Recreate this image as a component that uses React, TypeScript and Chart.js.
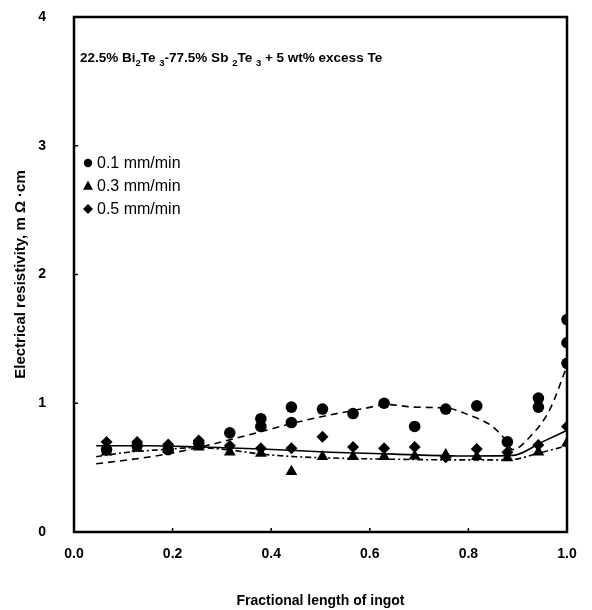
import React, { useEffect, useRef } from "react";
import { Chart, registerables } from "chart.js";

Chart.register(...registerables);

// ---- data ----
const xPositions = [0.066, 0.128, 0.191, 0.253, 0.316, 0.379, 0.441, 0.504, 0.566, 0.629, 0.691, 0.754, 0.817, 0.879, 0.942, 1.0];

const circleX = [0.066, 0.128, 0.191, 0.253, 0.316, 0.379, 0.379, 0.441, 0.441, 0.504, 0.566, 0.629, 0.691, 0.754, 0.817, 0.879, 0.942, 0.942, 1.0, 1.0, 1.0];
const circleY = [0.64, 0.67, 0.64, 0.69, 0.77, 0.82, 0.88, 0.85, 0.97, 0.955, 0.92, 1.0, 0.82, 0.955, 0.98, 0.70, 0.97, 1.04, 1.31, 1.47, 1.65];

const triangleX = xPositions;
const triangleY = [0.62, 0.65, 0.64, 0.66, 0.62, 0.61, 0.47, 0.585, 0.585, 0.585, 0.59, 0.60, 0.585, 0.575, 0.62, 0.69];

const diamondX = xPositions;
const diamondY = [0.70, 0.70, 0.68, 0.71, 0.67, 0.65, 0.65, 0.74, 0.66, 0.65, 0.66, 0.58, 0.645, 0.62, 0.675, 0.82];

// fitted trend curves
const fitCircleX = [0.045, 0.11, 0.18, 0.245, 0.31, 0.38, 0.45, 0.52, 0.59, 0.634, 0.69, 0.76, 0.80, 0.845, 0.87, 0.89, 0.925, 0.965, 1.0];
const fitCircleY = [0.53, 0.56, 0.60, 0.65, 0.71, 0.78, 0.85, 0.91, 0.96, 0.99, 0.97, 0.96, 0.91, 0.83, 0.74, 0.64, 0.74, 0.95, 1.29];

const fitTriangleX = [0.045, 0.11, 0.18, 0.245, 0.31, 0.38, 0.45, 0.52, 0.65, 0.78, 0.88, 0.95, 1.0];
const fitTriangleY = [0.585, 0.62, 0.64, 0.655, 0.64, 0.605, 0.585, 0.575, 0.565, 0.56, 0.56, 0.62, 0.67];

const fitDiamondX = [0.045, 0.15, 0.26, 0.38, 0.52, 0.65, 0.78, 0.89, 0.95, 1.0];
const fitDiamondY = [0.67, 0.67, 0.66, 0.645, 0.62, 0.605, 0.59, 0.595, 0.70, 0.79];

const xTicks = [0, 0.2, 0.4, 0.6, 0.8, 1.0];
const yTicks = [0, 1, 2, 3, 4];

const legendLabels = ["0.1 mm/min", "0.3 mm/min", "0.5 mm/min"];

const zip = (xs: number[], ys: number[]) => xs.map((x, i) => ({ x, y: ys[i] }));

const FONT = "'Liberation Sans', Arial, sans-serif";

function drawMarker(ctx: CanvasRenderingContext2D, kind: string, x: number, y: number, r: number) {
  ctx.beginPath();
  if (kind === "circle") {
    ctx.arc(x, y, r, 0, Math.PI * 2);
  } else if (kind === "triangle") {
    ctx.moveTo(x, y - r * 1.1);
    ctx.lineTo(x + r, y + r * 0.75);
    ctx.lineTo(x - r, y + r * 0.75);
    ctx.closePath();
  } else {
    ctx.moveTo(x, y - r);
    ctx.lineTo(x + r, y);
    ctx.lineTo(x, y + r);
    ctx.lineTo(x - r, y);
    ctx.closePath();
  }
  ctx.fill();
}

const overlayPlugin = {
  id: "overlay",
  afterDraw(chart: any) {
    const { ctx, chartArea } = chart;
    const xs = chart.scales.x;
    const ys = chart.scales.y;
    ctx.save();
    // frame
    ctx.strokeStyle = "#000";
    ctx.lineWidth = 2.5;
    ctx.strokeRect(chartArea.left, chartArea.top, chartArea.right - chartArea.left, chartArea.bottom - chartArea.top);
    // inward ticks
    ctx.lineWidth = 1.5;
    ctx.beginPath();
    xTicks.forEach((t) => {
      const px = xs.getPixelForValue(t);
      ctx.moveTo(px, chartArea.bottom);
      ctx.lineTo(px, chartArea.bottom - 4);
    });
    yTicks.forEach((t) => {
      const py = ys.getPixelForValue(t);
      ctx.moveTo(chartArea.left, py);
      ctx.lineTo(chartArea.left + 4, py);
    });
    ctx.stroke();

    // title with subscripts
    ctx.fillStyle = "#000";
    ctx.textBaseline = "alphabetic";
    ctx.textAlign = "left";
    const segs: [string, boolean][] = [
      ["22.5% Bi", false], ["2", true], ["Te ", false], ["3", true], ["-77.5% Sb ", false], ["2", true], ["Te ", false], ["3", true], [" + 5 wt% excess Te", false],
    ];
    let tx = chartArea.left + 6;
    const ty = chartArea.top + 45;
    segs.forEach(([s, sub]) => {
      ctx.font = sub ? `bold 9.5px ${FONT}` : `bold 13.5px ${FONT}`;
      const yy = sub ? ty + 4 : ty;
      ctx.fillText(s, tx, yy);
      tx += ctx.measureText(s).width;
    });

    // legend
    const kinds = ["circle", "triangle", "diamond"];
    ctx.font = `16px ${FONT}`;
    ctx.textBaseline = "middle";
    kinds.forEach((k, i) => {
      const ly = chartArea.top + 146 + i * 23;
      const lx = chartArea.left + 14;
      drawMarker(ctx, k, lx, ly, k === "circle" ? 4.2 : 5);
      ctx.fillText(legendLabels[i], lx + 9, ly + 1);
    });
    ctx.restore();
  },
};

export default function App() {
  const ref = useRef<HTMLCanvasElement | null>(null);
  useEffect(() => {
    if (!ref.current) return;
    const chart = new Chart(ref.current, {
      type: "scatter",
      data: {
        datasets: [
          {
            label: "fit 0.1",
            data: zip(fitCircleX, fitCircleY),
            showLine: true,
            borderColor: "#000",
            borderWidth: 1.6,
            borderDash: [7, 5],
            pointRadius: 0,
            cubicInterpolationMode: "monotone",
            fill: false,
          } as any,
          {
            label: "fit 0.3",
            data: zip(fitTriangleX, fitTriangleY),
            showLine: true,
            borderColor: "#000",
            borderWidth: 1.6,
            borderDash: [6, 3, 2, 3],
            pointRadius: 0,
            cubicInterpolationMode: "monotone",
            fill: false,
          } as any,
          {
            label: "fit 0.5",
            data: zip(fitDiamondX, fitDiamondY),
            showLine: true,
            borderColor: "#000",
            borderWidth: 1.6,
            pointRadius: 0,
            cubicInterpolationMode: "monotone",
            fill: false,
          } as any,
          {
            label: "0.1 mm/min",
            data: zip(circleX, circleY),
            pointStyle: "circle",
            pointRadius: 5.8,
            backgroundColor: "#000",
            borderColor: "#000",
            borderWidth: 0,
          },
          {
            label: "0.3 mm/min",
            data: zip(triangleX, triangleY),
            pointStyle: "triangle",
            pointRadius: 6.8,
            backgroundColor: "#000",
            borderColor: "#000",
            borderWidth: 0,
          },
          {
            label: "0.5 mm/min",
            data: zip(diamondX, diamondY),
            pointStyle: "rectRot",
            pointRadius: 6,
            backgroundColor: "#000",
            borderColor: "#000",
            borderWidth: 0,
          },
        ],
      },
      options: {
        animation: false,
        responsive: false,
        maintainAspectRatio: false,
        layout: { padding: { top: 17, right: 25, left: 0, bottom: 0 } },
        plugins: {
          legend: { display: false },
          tooltip: { enabled: false },
        },
        scales: {
          x: {
            type: "linear",
            min: 0,
            max: 1,
            afterBuildTicks: (scale: any) => {
              scale.ticks = xTicks.map((v) => ({ value: v }));
            },
            afterFit: (scale: any) => {
              scale.height = 78;
              scale.paddingLeft = 0;
              scale.paddingRight = 0;
            },
            grid: { display: false },
            border: { display: false },
            ticks: {
              color: "#000",
              font: { family: FONT, size: 14, weight: "bold" },
              padding: 6,
              maxRotation: 0,
              callback: (v: any) => Number(v).toFixed(1),
            },
            title: {
              display: true,
              text: "Fractional length of ingot",
              color: "#000",
              font: { family: FONT, size: 14, weight: "bold" },
              padding: { top: 22, bottom: 0 },
            },
          },
          y: {
            type: "linear",
            min: 0,
            max: 4,
            afterBuildTicks: (scale: any) => {
              scale.ticks = yTicks.map((v) => ({ value: v }));
            },
            afterFit: (scale: any) => {
              scale.width = 74;
              scale.paddingTop = 0;
              scale.paddingBottom = 0;
            },
            grid: { display: false },
            border: { display: false },
            ticks: {
              color: "#000",
              font: { family: FONT, size: 14, weight: "bold" },
              padding: 20,
              callback: (v: any) => String(v),
            },
            title: {
              display: true,
              text: "Electrical resistivity, m Ω ·cm",
              color: "#000",
              font: { family: FONT, size: 15, weight: "bold" },
              padding: { top: 12, bottom: 0 },
            },
          },
        },
      },
      plugins: [overlayPlugin],
    });
    return () => chart.destroy();
  }, []);
  return (
    <div style={{ position: "fixed", left: 0, top: 0, width: 592, height: 610, background: "#fff" }}>
      <canvas ref={ref} width={592} height={610} style={{ display: "block" }} />
    </div>
  );
}
